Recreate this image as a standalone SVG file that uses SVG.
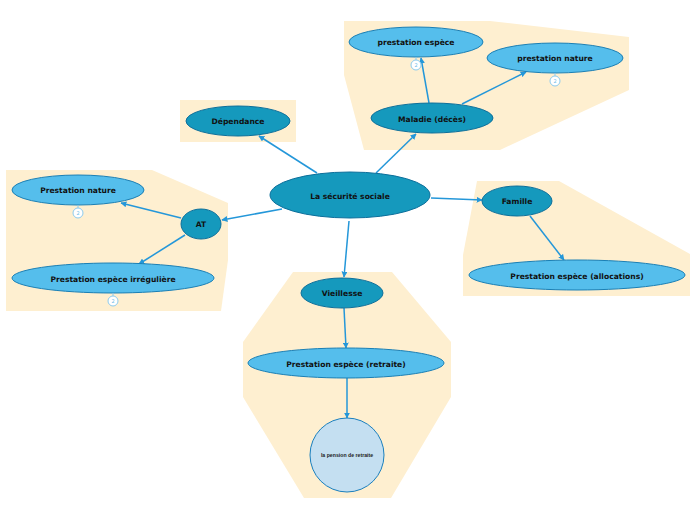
<svg xmlns="http://www.w3.org/2000/svg" width="696" height="520" viewBox="0 0 696 520">
<style>
.bg{fill:#FEEFD0;stroke:none}
.main{fill:#1599BD;stroke:#0C6F9B;stroke-width:1}
.sub{fill:#55BEEC;stroke:#1A7FB5;stroke-width:1}
.leaf{fill:#C4DFF1;stroke:#1A7FBE;stroke-width:1}
.t{font-family:"DejaVu Sans",Verdana,sans-serif;font-weight:bold;font-size:7.6px;fill:#111;text-anchor:middle;dominant-baseline:central}
.ts{font-family:"Liberation Sans",Arial,sans-serif;font-weight:bold;font-size:5.2px;fill:#222;text-anchor:middle;dominant-baseline:central}
.c{stroke:#2497D9;stroke-width:1.5;fill:none;marker-end:url(#a)}
.badge{fill:#fff;stroke:#8CCBEE;stroke-width:1}
.bt{font-family:"DejaVu Sans",sans-serif;font-size:5px;fill:#6FBCE8;text-anchor:middle;dominant-baseline:central}
.tick{stroke:#8CCBEE;stroke-width:1}
</style>
<defs>
<marker id="a" viewBox="0 0 10 10" refX="9" refY="5" markerWidth="6" markerHeight="6" markerUnits="userSpaceOnUse" orient="auto">
<path d="M0,0 L10,5 L0,10 z" fill="#2497D9"/>
</marker>
</defs>
<rect width="696" height="520" fill="#fff"/>
<g id="backgrounds">
<polygon class="bg" points="344,21 490,21 629,37 629,90 500,150 364,150 344,75"/>
<rect class="bg" x="180" y="100" width="116" height="42"/>
<polygon class="bg" points="6,170 152,170 228,203 228,260 221,311 6,311"/>
<polygon class="bg" points="477,181 559,181 690,254 690,296 463,296 463,255"/>
<polygon class="bg" points="293,272 392,272 451,342 451,397 391,498 304,498 243,397 243,342"/>
</g>
<g id="connectors">
<line class="c" x1="376" y1="173" x2="416" y2="134"/>
<line class="c" x1="317" y1="173" x2="259" y2="136"/>
<line class="c" x1="282" y1="209" x2="222" y2="220"/>
<line class="c" x1="431" y1="198" x2="482" y2="200"/>
<line class="c" x1="349" y1="221" x2="344" y2="277"/>
<line class="c" x1="429" y1="103" x2="421" y2="58"/>
<line class="c" x1="462" y1="104" x2="526" y2="72"/>
<line class="c" x1="181" y1="218" x2="121" y2="203"/>
<line class="c" x1="185" y1="235" x2="139" y2="264"/>
<line class="c" x1="530" y1="216" x2="564" y2="260"/>
<line class="c" x1="344" y1="308" x2="346" y2="348"/>
<line class="c" x1="347" y1="378" x2="347" y2="418"/>
</g>
<g id="n-center"><ellipse class="main" cx="350" cy="195" rx="80" ry="23"/><text class="t" x="350" y="196">La sécurité sociale</text></g>
<g id="n-dependance"><ellipse class="main" cx="238" cy="121" rx="52" ry="15"/><text class="t" x="238" y="121">Dépendance</text></g>
<g id="n-maladie"><ellipse class="main" cx="432" cy="118" rx="61" ry="15"/><text class="t" x="432" y="119">Maladie (décès)</text></g>
<g id="n-m-espece"><ellipse class="sub" cx="416" cy="42" rx="67" ry="15"/><text class="t" x="416" y="42">prestation espèce</text>
<line class="tick" x1="416" y1="57" x2="416" y2="60"/><circle class="badge" cx="416" cy="65" r="5"/><text class="bt" x="416" y="65">2</text></g>
<g id="n-m-nature"><ellipse class="sub" cx="555" cy="58" rx="68" ry="15"/><text class="t" x="555" y="58">prestation nature</text>
<line class="tick" x1="555" y1="73" x2="555" y2="76"/><circle class="badge" cx="555" cy="81" r="5"/><text class="bt" x="555" y="81">2</text></g>
<g id="n-at"><ellipse class="main" cx="201" cy="224" rx="20" ry="15"/><text class="t" x="201" y="224">AT</text></g>
<g id="n-at-nature"><ellipse class="sub" cx="78" cy="190" rx="66" ry="15"/><text class="t" x="78" y="190">Prestation nature</text>
<line class="tick" x1="78" y1="205" x2="78" y2="208"/><circle class="badge" cx="78" cy="213" r="5"/><text class="bt" x="78" y="213">2</text></g>
<g id="n-at-espece"><ellipse class="sub" cx="113" cy="278" rx="101" ry="15"/><text class="t" x="113" y="279">Prestation espèce irrégulière</text>
<line class="tick" x1="113" y1="293" x2="113" y2="296"/><circle class="badge" cx="113" cy="301" r="5"/><text class="bt" x="113" y="301">2</text></g>
<g id="n-famille"><ellipse class="main" cx="517" cy="201" rx="35" ry="15"/><text class="t" x="517" y="201">Famille</text></g>
<g id="n-allocations"><ellipse class="sub" cx="577" cy="275" rx="108" ry="15"/><text class="t" x="577" y="276">Prestation espèce (allocations)</text></g>
<g id="n-vieillesse"><ellipse class="main" cx="342" cy="293" rx="41" ry="15"/><text class="t" x="342" y="293">Vieillesse</text></g>
<g id="n-retraite"><ellipse class="sub" cx="346" cy="363" rx="98" ry="15"/><text class="t" x="346" y="364">Prestation espèce (retraite)</text></g>
<g id="n-pension"><circle class="leaf" cx="347" cy="455" r="37"/><text class="ts" x="347" y="455">la pension de retraite</text></g>
</svg>
